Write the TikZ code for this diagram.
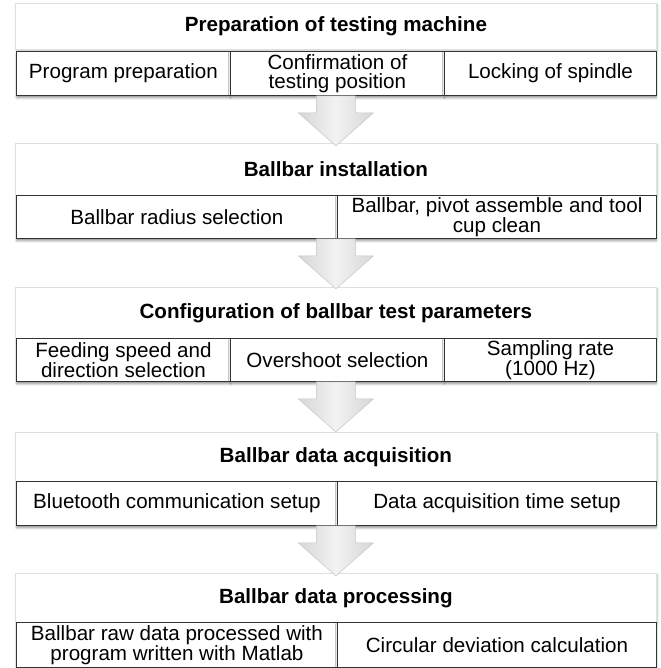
\documentclass[tikz,border=0pt]{standalone}
\usepackage{fontspec}
\setmainfont{Liberation Sans}
\usetikzlibrary{shadows.blur}

\newcommand\flowfont{\fontsize{20.6pt}{19pt}\selectfont}

\tikzset{
  stage/.style={draw=gray!25, fill=white, line width=0.8pt, inner sep=0pt,
    anchor=north west, minimum width=641pt, font=\flowfont\bfseries,
    blur shadow={shadow xshift=1pt, shadow yshift=-1.5pt, shadow blur steps=6, shadow opacity=25}},
  cell/.style={draw=black!80, fill=white, line width=0.9pt, inner sep=0pt,
    anchor=north west, align=center, font=\flowfont,
    blur shadow={shadow xshift=0pt, shadow yshift=-2.5pt, shadow blur steps=5, shadow opacity=40}},
  flowarrow/.pic={
    \draw[draw=gray!45, line width=0.5pt, left color=gray!32, right color=gray!32, middle color=gray!10]
      (-19.5,0) -- (19.5,0) -- (19.5,17) -- (37.5,17) -- (0,50)
      -- (-37.5,17) -- (-19.5,17) -- cycle;
  }
}

\begin{document}
\begin{tikzpicture}[x=1pt,y=-1pt]
\useasboundingbox (0,0) rectangle (660,668);

% stage 1
\node[stage, minimum height=46pt] (s1) at (15,3) {Preparation of testing machine};
\node[cell, minimum width=214pt, minimum height=44pt] (c11) at (16,51) {Program preparation};
\node[cell, minimum width=214pt, minimum height=44pt] (c12) at (230,51) {Confirmation of\\testing position};
\node[cell, minimum width=212pt, minimum height=44pt] (c13) at (444,51) {Locking of spindle};

% stage 2
\node[stage, minimum height=52pt] (s2) at (15,143) {Ballbar installation};
\node[cell, minimum width=321pt, minimum height=43pt] (c21) at (16,195) {Ballbar radius selection};
\node[cell, minimum width=319pt, minimum height=43pt] (c22) at (337,195) {Ballbar, pivot assemble and tool\\cup clean};

% stage 3
\node[stage, minimum height=51pt] (s3) at (15,287) {Configuration of ballbar test parameters};
\node[cell, minimum width=214pt, minimum height=43pt] (c31) at (16,338) {Feeding speed and\\direction selection};
\node[cell, minimum width=214pt, minimum height=43pt] (c32) at (230,338) {Overshoot selection};
\node[cell, minimum width=212pt, minimum height=43pt] (c33) at (444,338) {Sampling rate\\(1000 Hz)};

% stage 4
\node[stage, minimum height=49pt] (s4) at (15,432) {Ballbar data acquisition};
\node[cell, minimum width=321pt, minimum height=44pt] (c41) at (16,481) {Bluetooth communication setup};
\node[cell, minimum width=319pt, minimum height=44pt] (c42) at (337,481) {Data acquisition time setup};

% stage 5
\node[stage, minimum height=49pt] (s5) at (15,573) {Ballbar data processing};
\node[cell, minimum width=321pt, minimum height=45pt] (c51) at (16,622) {Ballbar raw data processed with\\program written with Matlab};
\node[cell, minimum width=319pt, minimum height=45pt] (c52) at (337,622) {Circular deviation calculation};

% arrows between the stages
\foreach \i in {1,...,4}
  \pic at (s\i.center |- c\i1.south) {flowarrow};
\end{tikzpicture}
\end{document}
